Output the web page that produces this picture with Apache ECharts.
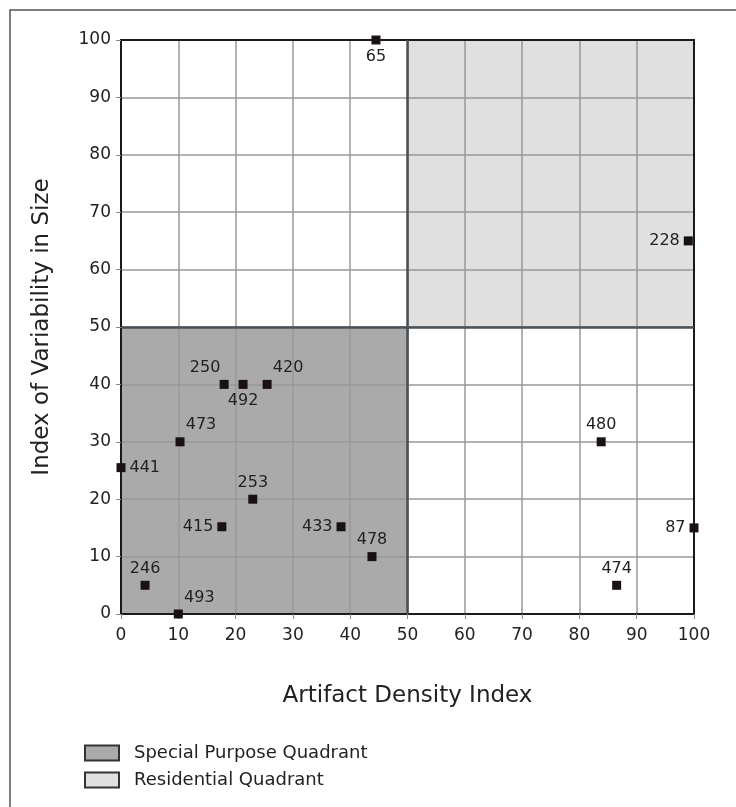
<!DOCTYPE html>
<html>
<head>
<meta charset="utf-8">
<script src="https://cdn.jsdelivr.net/npm/echarts@6/dist/echarts.min.js"></script>
<style>
  html, body { margin: 0; padding: 0; background: #fff; }
  #chart { width: 736px; height: 807px; }
</style>
</head>
<body>
<div id="chart"></div>
<script>
// Site identifiers with their density / variability indices
const siteIds      = ['65', '228', '250', '492', '420', '473', '441', '253', '415', '433', '478', '246', '493', '480', '87', '474'];
const densityIndex = [44.5, 99, 18, 21.3, 25.5, 10.3, 0, 23, 17.6, 38.4, 43.8, 4.2, 10, 83.8, 100, 86.5];
const sizeVarIndex = [100, 65, 40, 40, 40, 30, 25.5, 20, 15.2, 15.2, 10, 5, 0, 30, 15, 5];

// Where each site label sits relative to its marker
const labelSide = ['bottom', 'left', 'topleft', 'bottom', 'topright', 'topright', 'right', 'top', 'left', 'left', 'top', 'top', 'topright', 'top', 'left', 'top'];

// Quadrant extents: [xFrom, yFrom, xTo, yTo]
const quadrantNames = ['Special Purpose Quadrant', 'Residential Quadrant'];
const quadrantBounds = [[0, 0, 50, 50], [50, 50, 100, 100]];
const quadrantSplit = 50;

// Axis ranges and tick steps
const axisMin = 0, axisMax = 100, axisStep = 10;

const FONT = 'DejaVu Sans';
const quadrantFill = ['#aaaaaa', '#e0e0e0'];

function labelCfg(side) {
  const base = { show: true, fontFamily: FONT, fontSize: 16, color: '#222', distance: 4, opacity: 1 };
  if (side === 'topleft') return Object.assign(base, { position: 'top', offset: [-19, 0] });
  if (side === 'topright') return Object.assign(base, { position: 'top', offset: [21, 0] });
  return Object.assign(base, { position: side });
}

const points = siteIds.map((id, i) => ({
  value: [densityIndex[i], sizeVarIndex[i]],
  name: id,
  label: Object.assign(labelCfg(labelSide[i]), { formatter: id })
}));

const quadrantSeries = quadrantNames.map((name, i) => ({
  name: name,
  type: 'line',
  z: 1,
  data: [],
  silent: true,
  itemStyle: { color: quadrantFill[i], borderColor: '#333', borderWidth: 1 },
  markArea: {
    silent: true,
    itemStyle: { color: quadrantFill[i], borderWidth: 0, opacity: 1 },
    data: [[
      { coord: [quadrantBounds[i][0], quadrantBounds[i][1]] },
      { coord: [quadrantBounds[i][2], quadrantBounds[i][3]] }
    ]]
  }
}));

const chart = echarts.init(document.getElementById('chart'));

const axisLabel = { fontFamily: FONT, fontSize: 17, color: '#222' };
const frameLine = { show: true, onZero: false, lineStyle: { color: '#1a1a1a', width: 2 } };

chart.setOption({
  animation: false,
  backgroundColor: '#fff',
  grid: { left: 121, right: 42, top: 40, bottom: 193 },
  graphic: [{
    type: 'rect',
    shape: { x: 10, y: 10, width: 760, height: 840 },
    style: { fill: 'none', stroke: '#555', lineWidth: 1.5 },
    z: -10
  }],
  legend: {
    orient: 'vertical',
    left: 84,
    top: 744,
    padding: 0,
    itemWidth: 34,
    itemHeight: 15,
    itemGap: 9,
    icon: 'rect',
    data: quadrantNames,
    textStyle: { fontFamily: FONT, fontSize: 18, color: '#222', padding: [0, 0, 0, 10] },
    selectedMode: false
  },
  xAxis: [{
    type: 'value',
    min: axisMin, max: axisMax, interval: axisStep,
    z: 2,
    name: 'Artifact Density Index',
    nameLocation: 'middle',
    nameGap: 71,
    nameTextStyle: { fontFamily: FONT, fontSize: 23, color: '#222' },
    axisLine: frameLine,
    axisTick: { show: true, length: 5, lineStyle: { color: '#888', width: 1 } },
    axisLabel: Object.assign({ margin: 13 }, axisLabel),
    splitLine: { show: true, lineStyle: { color: '#999', width: 1.5 } }
  }, {
    type: 'value', position: 'top',
    min: axisMin, max: axisMax, z: 2,
    axisLine: frameLine,
    axisTick: { show: false }, axisLabel: { show: false }, splitLine: { show: false }
  }],
  yAxis: [{
    type: 'value',
    min: axisMin, max: axisMax, interval: axisStep,
    z: 2,
    name: 'Index of Variability in Size',
    nameLocation: 'middle',
    nameGap: 67,
    nameTextStyle: { fontFamily: FONT, fontSize: 23, color: '#222' },
    axisLine: frameLine,
    axisTick: { show: true, length: 5, lineStyle: { color: '#888', width: 1 } },
    axisLabel: Object.assign({ margin: 10 }, axisLabel),
    splitLine: { show: true, lineStyle: { color: '#999', width: 1.5 } }
  }, {
    type: 'value', position: 'right',
    min: axisMin, max: axisMax, z: 2,
    axisLine: frameLine,
    axisTick: { show: false }, axisLabel: { show: false }, splitLine: { show: false }
  }],
  series: quadrantSeries.concat([{
    name: 'quadrant dividers',
    type: 'line',
    z: 3,
    data: [],
    silent: true,
    markLine: {
      silent: true,
      symbol: 'none',
      label: { show: false },
      lineStyle: { color: '#4a5156', width: 2.5, type: 'solid', opacity: 1 },
      data: [{ xAxis: quadrantSplit }, { yAxis: quadrantSplit }]
    }
  }, {
    name: 'sites',
    type: 'scatter',
    z: 4,
    symbol: 'rect',
    symbolSize: 9,
    itemStyle: { color: '#1a1212', opacity: 1 },
    data: points
  }])
});
</script>
</body>
</html>
